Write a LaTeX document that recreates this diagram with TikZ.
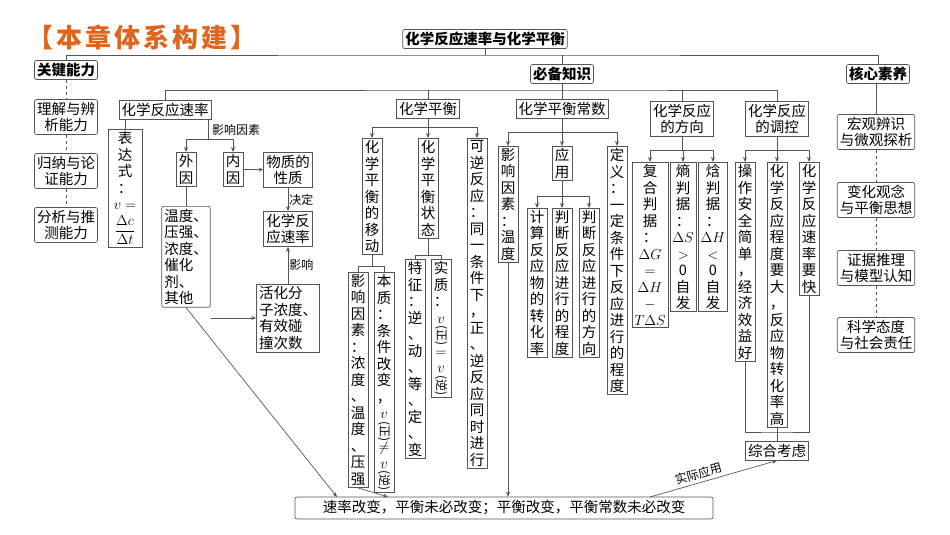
\documentclass[tikz,border=0pt]{standalone}
\usepackage{fontspec}
\usepackage{amsmath}
\setmainfont{Noto Sans CJK SC}
\usetikzlibrary{arrows.meta,positioning}
\definecolor{titleorange}{HTML}{E0651C}
\definecolor{linegray}{HTML}{555555}
\makeatletter
\def\vadd#1{\ifx\vbody\@empty\def\vbody{#1}\else\expandafter\def\expandafter\vbody\expandafter{\vbody\\#1}\fi}
\newcommand\vstack[1]{\def\vbody{}\@tfor\vc:=#1\do{\expandafter\vadd\expandafter{\vc}}\vbody}
\makeatother
\newcommand\rp[1]{\rotatebox[origin=c]{-90}{\fontsize{12}{12}\selectfont(#1)}}

\tikzset{
  box/.style={draw=linegray, line width=0.7pt, fill=white, inner sep=2.5pt, align=center,
    font=\fontsize{14.5}{16.5}\selectfont},
  rbox/.style={box, rounded corners=2pt},
  hbox/.style={rbox, font=\bfseries\fontsize{14.5}{16.5}\selectfont},
  vbox/.style={box, anchor=north, minimum width=20pt, inner sep=2pt},
  conn/.style={draw=linegray, line width=0.7pt},
  arr/.style={conn, -{Stealth[length=5pt,width=4pt]}},
  lab/.style={font=\fontsize{12}{13}\selectfont, inner sep=1pt}
}

\begin{document}
\begin{tikzpicture}[x=1pt,y=-1pt]
  \useasboundingbox (0,0) rectangle (950,535);
  %Title
  \node[font=\bfseries\fontsize{26}{26}\selectfont, text=titleorange] (title) at (142,37)
    {\addfontfeature{LetterSpace=12}【本章体系构建】};

  %Top level
  \node[hbox] (top) at (485,39) {化学反应速率与化学平衡};
  \node[hbox] (gjnl) at (66,70) {关键能力};
  \node[hbox] (bbzs) at (562,74) {必备知识};
  \node[hbox] (hxsy) at (878,74) {核心素养};
  \coordinate (bus0) at (485,55);
  \draw[conn] (top.south) -- (bus0);
  \draw[conn] (gjnl.north) |- (bus0) -| (hxsy.north);
  \draw[conn] (bbzs.north) -- (bbzs.north |- bus0);

  %Left column
  \node[rbox] (ab1) at (66,117) {理解与辨\\析能力};
  \node[rbox] (ab2) at (66,171) {归纳与论\\证能力};
  \node[rbox] (ab3) at (66,225) {分析与推\\测能力};
  \draw[conn, dashed] (gjnl.south) -- (ab1.north);
  \draw[conn, dashed] (ab1.south) -- (ab2.north);
  \draw[conn, dashed] (ab2.south) -- (ab3.north);

  %Right column
  \node[rbox] (cs1) at (876,132) {宏观辨识\\与微观探析};
  \node[rbox] (cs2) at (876,200) {变化观念\\与平衡思想};
  \node[rbox] (cs3) at (876,268) {证据推理\\与模型认知};
  \node[rbox] (cs4) at (876,335) {科学态度\\与社会责任};
  \draw[conn] (hxsy.south -| cs1.north) -- (cs1.north);
  \draw[conn, dashed] (cs1.south) -- (cs2.north);
  \draw[conn, dashed] (cs2.south) -- (cs3.north);
  \draw[conn, dashed] (cs3.south) -- (cs4.north);

  %Second level
  \node[box] (sl) at (165,110) {化学反应速率};
  \node[box] (ph) at (428,109) {化学平衡};
  \node[box] (k) at (562,109) {化学平衡常数};
  \node[box] (dir) at (682,119) {化学反应\\的方向};
  \node[box] (ctl) at (777,119) {化学反应\\的调控};
  \coordinate (bus1) at (562,90);
  \draw[conn] (bbzs.south) -- (bus1);
  \draw[conn] (sl.north) |- (bus1) -| (ctl.north);
  \draw[conn] (ph.north) -- (ph.north |- bus1);
  \draw[conn] (k.north) -- (bus1);
  \draw[conn] (dir.north) -- (dir.north |- bus1);

  %Rate
  \node[vbox, minimum width=34pt] (expr) at (125,129) {表\\达\\式\\：\\$v=$\\[5pt]$\dfrac{\Delta c}{\Delta t}$};
  \draw[conn] (sl.south -| expr.north) -- (expr.north);
  \coordinate (sf) at (208,139);
  \draw[conn] (sl.south -| sf) -- (sf);
  \node[lab, anchor=west] (yxys) at (211,130) {影响因素};
  \node[vbox] (wy) at (186,152) {\vstack{外因}};
  \node[vbox] (ny) at (233,152) {\vstack{内因}};
  \draw[arr] (sf) -| (wy.north);
  \draw[arr] (sf) -| (ny.north);
  \node[box] (wz) at (288,170) {物质的\\性质};
  \draw[arr] (ny) -- (wz);
  \node[box] (sl2) at (288,229) {化学反\\应速率};
  \draw[arr] (wz) -- node[lab, right] {决定} (sl2);
  \node[box, anchor=north, align=left, rounded corners=2pt] (wd) at (186,206) {温度、\\压强、\\浓度、\\催化\\剂、\\其他};
  \draw[conn] (wy) -- (wd);
  \node[box, align=left] (hh) at (288,318) {活化分\\子浓度、\\有效碰\\撞次数};
  \draw[arr] (wd.east |- hh.west) -- (hh.west);
  \draw[arr] (hh) -- node[lab, right] {影响} (sl2);

  %Bottom
  \node[box, minimum width=418pt, minimum height=22pt, rounded corners=2pt] (bt) at (504,508)
    {速率改变，平衡未必改变；平衡改变，平衡常数未必改变};
  \coordinate (ba) at (337,497);
  \draw[arr] (wd.south) -- (ba);

  %Equilibrium
  \coordinate (phb) at (428,127);
  \draw[conn] (ph.south) -- (phb);
  \node[vbox] (mv) at (372,138) {\vstack{化学平衡的移动}};
  \node[vbox] (st) at (428,138) {\vstack{化学平衡状态}};
  \node[vbox] (kn) at (477,138) {\vstack{可逆反应：同一条件下，正、逆反应同时进行}};
  \draw[arr] (phb) -| (mv.north);
  \draw[arr] (phb) -- (st.north);
  \draw[arr] (phb) -| (kn.north);
  \coordinate (mvb) at (372,266);
  \draw[conn] (mv.south) -- (mvb);
  \node[vbox] (m1) at (358,272) {\vstack{影响因素：浓度、温度、压强}};
  \node[vbox] (m2) at (384,272) {\vstack{本质：条件改变，{$v$}{\rp{正}}{$\neq$}{$v$}{\rp{逆}}}};
  \draw[conn] (mvb) -| (m1.north);
  \draw[conn] (mvb) -| (m2.north);
  \coordinate (bm) at (388,497);
  \draw[arr] (m1.south) -- (bm);
  \coordinate (stb) at (428,255);
  \draw[conn] (st.south) -- (stb);
  \node[vbox] (t1) at (415,259) {\vstack{特征：逆、动、等、定、变}};
  \node[vbox] (t2) at (441,259) {\vstack{实质：{$v$}{\rp{正}}{$=$}{$v$}{\rp{逆}}}};
  \draw[conn] (stb) -| (t1.north);
  \draw[conn] (stb) -| (t2.north);

  %Constant
  \coordinate (kb) at (562,132);
  \draw[conn] (k.south) -- (kb);
  \node[vbox] (k1) at (508,146) {\vstack{影响因素：温度}};
  \node[vbox] (k2) at (562,146) {\vstack{应用}};
  \node[vbox] (k3) at (617,146) {\vstack{定义：一定条件下反应进行的程度}};
  \draw[arr] (kb) -| (k1.north);
  \draw[arr] (kb) -- (k2.north);
  \draw[arr] (kb) -| (k3.north);
  \draw[arr] (k1.south) -- (k1.south |- bt.north);
  \coordinate (k2b) at (562,196);
  \draw[conn] (k2.south) -- (k2b);
  \node[vbox] (a1) at (537,208) {\vstack{计算反应物的转化率}};
  \node[vbox] (a2) at (562,208) {\vstack{判断反应进行的程度}};
  \node[vbox] (a3) at (589,208) {\vstack{判断反应进行的方向}};
  \draw[arr] (k2b) -| (a1.north);
  \draw[arr] (k2b) -- (a2.north);
  \draw[arr] (k2b) -| (a3.north);

  %Direction
  \coordinate (db) at (682,150);
  \draw[conn] (dir.south) -- (db);
  \node[vbox, minimum width=36pt] (d1) at (650,162) {\vstack{复合判据：{$\Delta G$}{$=$}{$\Delta H$}{$-$}{$T\Delta S$}}};
  \node[vbox, minimum width=26pt] (d2) at (683,162) {\vstack{熵判据：{$\Delta S$}{$>$}{0}自发}};
  \node[vbox, minimum width=28pt] (d3) at (713,162) {\vstack{焓判据：{$\Delta H$}{$<$}{0}自发}};
  \draw[arr] (db) -| (d1.north);
  \draw[arr] (db) -| (d2.north);
  \draw[arr] (db) -| (d3.north);

  %Control
  \coordinate (cb) at (777,150);
  \draw[conn] (ctl.south) -- (cb);
  \node[vbox] (c1) at (745,162) {\vstack{操作安全简单，经济效益好}};
  \node[vbox] (c2) at (777,162) {\vstack{化学反应程度要大，反应物转化率高}};
  \node[vbox] (c3) at (809,162) {\vstack{化学反应速率要快}};
  \draw[arr] (cb) -| (c1.north);
  \draw[arr] (cb) -- (c2.north);
  \draw[arr] (cb) -| (c3.north);
  \node[box] (zh) at (777,451) {综合考虑};
  \coordinate (zb) at (777,432);
  \draw[conn] (c1.south) |- (zb) -| (c3.south);
  \draw[conn] (c2.south) -- (zh.north);
  \coordinate (bz) at (650,497);
  \draw[arr] (bz) -- node[lab, above=2pt, sloped, pos=0.4] {实际应用} (zh.south);
\end{tikzpicture}
\end{document}
